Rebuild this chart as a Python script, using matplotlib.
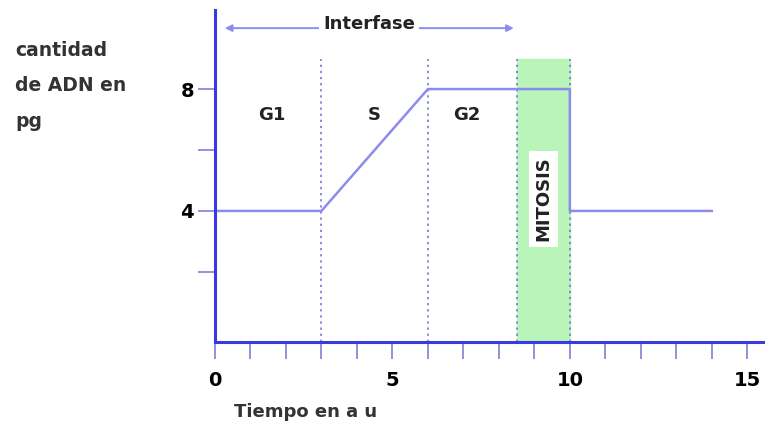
import matplotlib.pyplot as plt

# DNA content over the cell cycle
tiempo = [0, 3, 6, 10, 10, 14]
adn = [4, 4, 8, 8, 4, 4]

# phase boundaries and labels
limites = [3, 6, 8.5, 10]
fases = ["G1", "S", "G2"]
fases_x = [1.6, 4.5, 7.1]
mitosis_inicio, mitosis_fin = 8.5, 10

x_ticks = list(range(0, 16))
x_labels = ["0", "", "", "", "", "5", "", "", "", "", "10", "", "", "", "", "15"]
y_ticks = [2, 4, 6, 8]
y_labels = ["", "4", "", "8"]

eje = "#3a3ae0"
linea = "#8c8cf0"

fig = plt.figure(figsize=(7.65, 4.28), dpi=100)
ax = fig.add_axes([0.281, 0.201, 0.719, 0.776])
ax.set_xlim(0, 15.5)
ax.set_ylim(-0.3, 10.6)

# mitosis band
ax.fill_between([mitosis_inicio, mitosis_fin], -0.3, 9, color="#b9f4b9", zorder=0)

# dotted phase boundaries
for xb in limites:
    ax.plot([xb, xb], [-0.3, 9], color="#6a6ae0", linestyle=(0, (1.5, 2.5)), lw=1.1, zorder=1)

ax.plot(tiempo, adn, color=linea, lw=1.8, zorder=2)

for nombre, xf in zip(fases, fases_x):
    ax.text(xf, 7.15, nombre, ha="center", va="center", fontsize=13,
            fontweight="bold", color="#222222")

ax.text(9.25, 4.4, "MITOSIS", rotation=90, ha="center", va="center", fontsize=13,
        fontweight="bold", color="#222222",
        bbox=dict(facecolor="white", edgecolor="none", pad=4))

# interphase arrow
ax.annotate("", xy=(0.2, 10.0), xytext=(8.5, 10.0),
            arrowprops=dict(arrowstyle="<|-|>", color=linea, lw=1.4, mutation_scale=10))
ax.text(4.35, 10.15, "Interfase", ha="center", va="center", fontsize=13,
        fontweight="bold", color="#222222",
        bbox=dict(facecolor="white", edgecolor="none", pad=3))

for s in ["top", "right"]:
    ax.spines[s].set_visible(False)
for s in ["left", "bottom"]:
    ax.spines[s].set_color(eje)
    ax.spines[s].set_linewidth(2.2)

ax.set_xticks(x_ticks)
ax.set_xticklabels(x_labels, fontsize=14, fontweight="bold")
ax.set_yticks(y_ticks)
ax.set_yticklabels(y_labels, fontsize=14, fontweight="bold")
ax.tick_params(axis="x", direction="out", length=12, width=1.2, color="#8080d8", pad=9)
ax.tick_params(axis="y", direction="out", length=12, width=1.2, color="#8080d8", pad=3)

fig.text(0.02, 0.905, "cantidad\nde ADN en\npg", ha="left", va="top", fontsize=13.5,
         fontweight="bold", color="#333333", linespacing=2.1)
ax.set_xlabel("Tiempo en a u", fontsize=13, fontweight="bold", color="#333333")
ax.xaxis.set_label_coords(0.165, -0.185)

fig.savefig("out.png", dpi=100)
